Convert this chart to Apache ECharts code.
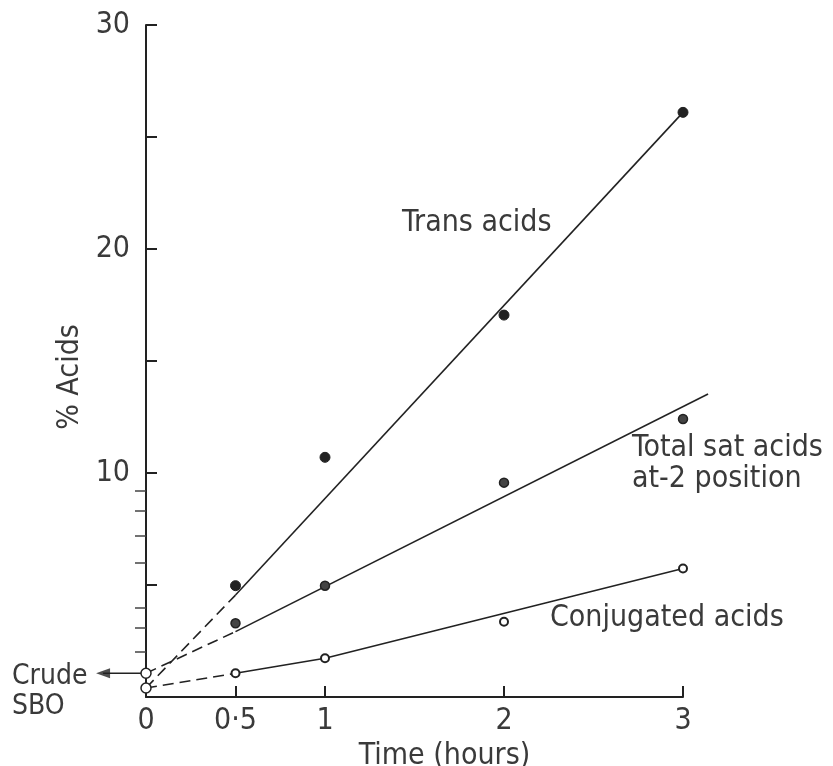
<!DOCTYPE html>
<html>
<head>
<meta charset="utf-8">
<script src="https://cdn.jsdelivr.net/npm/echarts@6/dist/echarts.min.js"></script>
<style>
html,body{margin:0;padding:0;background:#fff;}
#chart{width:833px;height:766px;}
</style>
</head>
<body>
<div id="chart"></div>
<script>
// % acids vs time (hours)
var xTicks = [0.5, 1, 2, 3];
var xLabels = [0, 0.5, 1, 2, 3];
var yTicks = [5, 10, 15, 20, 25, 30];
var yLabels = [10, 20, 30];
var yMinorTicks = [2, 3.1, 4, 6, 7.2, 8.3, 9.2];

var transPts = [[0.5, 4.97], [1, 10.7], [2, 17.05], [3, 26.1]];
var satPts = [[0.5, 3.29], [1, 4.97], [2, 9.57], [3, 12.41]];
var conjPts = [[0.5, 1.06], [1, 1.73], [2, 3.36], [3, 5.74]];
var crudePts = [[0, 1.06], [0, 0.4]];

// hand drawn lines: dashed back to zero, solid through the points
var transDash = [[0, 0.4], [0.5, 4.55]];
var transLine = [[0.5, 4.55], [3, 26.1]];
var satDash = [[0, 1.06], [0.5, 2.92]];
var satLine = [[0.5, 2.92], [3.14, 13.53]];
var conjDash = [[0, 0.4], [0.5, 1.06]];
var conjLine = [[0.5, 1.06], [1, 1.73], [3, 5.74]];
var crudeArrow = [[0, 1.06], [-0.24, 1.06]];

var FONT = '"Liberation Sans Narrow", "DejaVu Sans Condensed", "DejaVu Sans", sans-serif';
var INK = '#222';
var TXT = '#3a3a3a';

// second grid: same scale as the visible one but wider, so the marks past 0 and 3 are not cut
var PX = 179;
var X0 = 146, XMIN = -0.4, XMAX = 3.3;

function fitLine(data, dashed) {
	return {
		type: 'line',
		xAxisIndex: 1,
		yAxisIndex: 2,
		data: data,
		symbol: 'none',
		silent: true,
		lineStyle: { color: INK, width: 1.6, type: dashed ? [11, 6] : 'solid' },
		z: 2
	}
}
function dots(data, size, fill, bw) {
	return {
		type: 'scatter',
		xAxisIndex: 1,
		yAxisIndex: 2,
		data: data,
		symbol: 'circle',
		symbolSize: size,
		itemStyle: { color: fill, borderColor: INK, borderWidth: bw, opacity: 1 },
		z: 3
	}
}
function txt(s, x, y, size) {
	return {
		type: 'text',
		x: x,
		y: y,
		style: { text: s, font: (size || 30) + 'px ' + FONT, fill: TXT, align: 'left', verticalAlign: 'middle' }
	}
}

var chart = echarts.init(document.getElementById('chart'));
var option = {
	animation: false,
	backgroundColor: '#fff',
	grid: [
		{ left: X0, right: 833 - X0 - 3 * PX, top: 25, bottom: 69, outerBoundsMode: 'none' },
		{ left: X0 + XMIN * PX, right: 833 - X0 - XMAX * PX, top: 25, bottom: 69, outerBoundsMode: 'none' }
	],
	xAxis: [{
		type: 'value',
		gridIndex: 0,
		min: 0,
		max: 3,
		name: 'Time (hours)',
		nameLocation: 'middle',
		nameGap: 33,
		nameTextStyle: { fontFamily: FONT, fontSize: 30, color: TXT, padding: [0, 0, 0, 60] },
		axisLine: { lineStyle: { color: INK, width: 2 } },
		axisTick: { inside: true, length: 11, customValues: xTicks, lineStyle: { color: INK, width: 2 } },
		axisLabel: {
			customValues: xLabels,
			margin: 9,
			fontFamily: FONT,
			fontSize: 30,
			color: TXT,
			formatter: function(v) {
				return v == 0.5 ? '0·5' : String(v)
			}
		},
		splitLine: { show: false }
	}, {
		type: 'value',
		gridIndex: 1,
		min: XMIN,
		max: XMAX,
		show: false
	}],
	yAxis: [{
		type: 'value',
		gridIndex: 0,
		min: 0,
		max: 30,
		name: '% Acids',
		nameLocation: 'middle',
		nameGap: 56,
		nameRotate: 90,
		nameTextStyle: { fontFamily: FONT, fontSize: 30, color: TXT, padding: [0, 32, 0, 0] },
		axisLine: { lineStyle: { color: INK, width: 2 } },
		axisTick: { inside: true, length: 11, customValues: yTicks, lineStyle: { color: INK, width: 2 } },
		axisLabel: { customValues: yLabels, margin: 16, fontFamily: FONT, fontSize: 30, color: TXT },
		splitLine: { show: false }
	}, {
		//small ticks on the outside
		type: 'value',
		gridIndex: 0,
		min: 0,
		max: 30,
		position: 'left',
		axisLine: { show: false },
		axisTick: { show: true, inside: false, length: 11, customValues: yMinorTicks, lineStyle: { color: '#444', width: 1.5 } },
		axisLabel: { show: false },
		splitLine: { show: false }
	}, {
		type: 'value',
		gridIndex: 1,
		min: 0,
		max: 30,
		show: false
	}],
	graphic: [
		txt('Trans acids', 402, 223),
		txt('Total sat acids', 632, 448),
		txt('at-2 position', 632, 479),
		txt('Conjugated acids', 550, 618),
		txt('Crude', 12, 677, 28),
		txt('SBO', 12, 707, 28)
	],
	series: [
		fitLine(transDash, true),
		fitLine(transLine, false),
		fitLine(satDash, true),
		fitLine(satLine, false),
		fitLine(conjDash, true),
		fitLine(conjLine, false),
		fitLine(crudeArrow, false),
		{
			//arrow head
			type: 'scatter',
			xAxisIndex: 1,
			yAxisIndex: 2,
			data: [crudeArrow[1]],
			symbol: 'triangle',
			symbolRotate: 90,
			symbolSize: [10, 14],
			itemStyle: { color: INK },
			z: 3
		},
		dots(transPts, 10, INK, 1),
		dots(satPts, 9, '#444', 1.5),
		dots(conjPts, 8, '#fff', 2),
		dots(crudePts, 10, '#fff', 1.5)
	]
};
chart.setOption(option);
</script>
</body>
</html>
